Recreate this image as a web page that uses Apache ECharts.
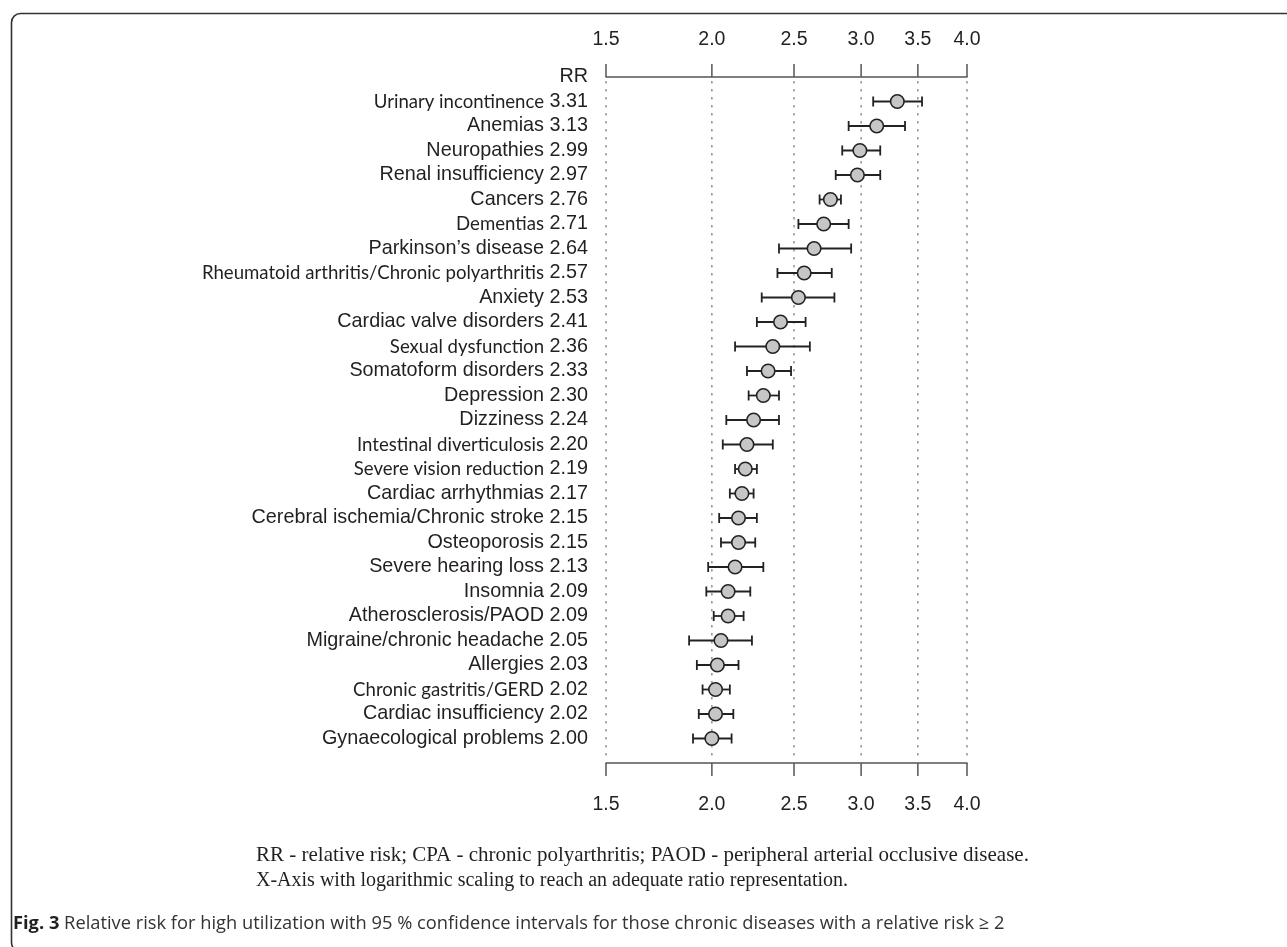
<!DOCTYPE html>
<html>
<head>
<meta charset="utf-8">
<script src="https://cdn.jsdelivr.net/npm/echarts@6/dist/echarts.min.js"></script>
<style>
html,body{margin:0;padding:0;background:#fff;}
#chart{width:1287px;height:947px;}
</style>
</head>
<body>
<div id="chart"></div>
<script>
const names = ['Urinary incontinence','Anemias','Neuropathies','Renal insufficiency','Cancers','Dementias','Parkinson\u2019s disease','Rheumatoid arthritis/Chronic polyarthritis','Anxiety','Cardiac valve disorders','Sexual dysfunction','Somatoform disorders','Depression','Dizziness','Intestinal diverticulosis','Severe vision reduction','Cardiac arrhythmias','Cerebral ischemia/Chronic stroke','Osteoporosis','Severe hearing loss','Insomnia','Atherosclerosis/PAOD','Migraine/chronic headache','Allergies','Chronic gastritis/GERD','Cardiac insufficiency','Gynaecological problems'];
const rr    = [3.31,3.13,2.99,2.97,2.76,2.71,2.64,2.57,2.53,2.41,2.36,2.33,2.30,2.24,2.20,2.19,2.17,2.15,2.15,2.13,2.09,2.09,2.05,2.03,2.02,2.02,2.00];
const lower = [3.10,2.90,2.85,2.80,2.68,2.53,2.40,2.39,2.29,2.26,2.13,2.20,2.21,2.08,2.06,2.13,2.10,2.04,2.05,1.98,1.97,2.01,1.88,1.92,1.95,1.93,1.90];
const upper = [3.54,3.38,3.16,3.16,2.84,2.90,2.92,2.77,2.79,2.58,2.61,2.48,2.40,2.40,2.36,2.26,2.24,2.26,2.25,2.30,2.22,2.18,2.23,2.15,2.10,2.12,2.11];
const altFont = [1,0,0,0,0,1,0,1,0,0,1,0,0,0,1,1,0,0,0,0,0,0,0,0,1,0,0];
const tickValues = [1.5,2.0,2.5,3.0,3.5,4.0];
const headerLabel = 'RR';
const notes = ['RR - relative risk; CPA - chronic polyarthritis; PAOD - peripheral arterial occlusive disease.','X-Axis with logarithmic scaling to reach an adequate ratio representation.'];
const captionBold = 'Fig. 3';
const captionText = ' Relative risk for high utilization with 95 % confidence intervals for those chronic diseases with a relative risk \u2265 2';

const cats = [headerLabel].concat(names).concat(['__end']);

const chart = echarts.init(document.getElementById('chart'));
const AR = 'Liberation Sans, Arial, Helvetica, sans-serif';
const TXT = '#231f20';

const xAxisBase = {
  type: 'log', logBase: 10, min: 1.5, max: 4.0,
  axisLine: {show: true, lineStyle: {color: '#555', width: 1.5}},
  axisTick: {show: false}, axisLabel: {show: false}, splitLine: {show: false}, minorTick:{show:false}, minorSplitLine:{show:false}
};

const option = {
  animation: false,
  backgroundColor: '#fff',
  grid: {left: 606, right: 320, top: 77, bottom: 184, containLabel: false},
  xAxis: [
    Object.assign({position: 'top'}, xAxisBase),
    Object.assign({position: 'bottom'}, xAxisBase)
  ],
  yAxis: {
    type: 'category', inverse: true, boundaryGap: false, data: cats,
    axisLine: {show: false}, axisTick: {show: false}, splitLine: {show: false},
    axisLabel: {
      margin: 18, interval: 0,
      formatter: function (v, i) {
        if (i === 0) return '{a|' + headerLabel + '}';
        const k = i - 1;
        if (k >= names.length) return '';
        const nm = altFont[k] ? '{c|' + names[k] + '}' : '{a|' + names[k] + '}';
        return nm + '{a| ' + rr[k].toFixed(2) + '}';
      },
      rich: {
        a: {fontFamily: AR, fontSize: 19.8, color: TXT},
        c: {fontFamily: 'Lato, Open Sans, sans-serif', fontSize: 18.6, color: TXT}
      }
    }
  },
  series: [
    {
      type: 'custom', name: 'ticks', xAxisIndex: 0, clip: false, silent: true, z: 1,
      data: tickValues.map(v => [v, 0]),
      renderItem: function (params, api) {
        const x = api.coord([api.value(0), 0])[0];
        const cs = params.coordSys;
        const top = cs.y, bot = cs.y + cs.height;
        const lbl = api.value(0).toFixed(1);
        return {type: 'group', children: [
          {type: 'line', shape: {x1: x, y1: top - 13, x2: x, y2: top}, style: {stroke: '#555', lineWidth: 1.5}},
          {type: 'line', shape: {x1: x, y1: bot, x2: x, y2: bot + 13}, style: {stroke: '#555', lineWidth: 1.5}},
          {type: 'line', shape: {x1: x, y1: top + 4, x2: x, y2: bot - 4}, style: {stroke: '#777', lineWidth: 1.2, lineDash: [2.5, 5.5]}},
          {type: 'text', x: x, y: top - 37, style: {text: lbl, align: 'center', verticalAlign: 'middle', fontFamily: AR, fontSize: 19.5, fill: TXT}},
          {type: 'text', x: x, y: bot + 42, style: {text: lbl, align: 'center', verticalAlign: 'middle', fontFamily: AR, fontSize: 19.5, fill: TXT}}
        ]};
      }
    },
    {
      type: 'custom', name: 'CI', xAxisIndex: 0, clip: false, silent: true, z: 2,
      data: names.map((n, k) => [lower[k], upper[k], k + 1]),
      encode: {x: [0, 1], y: 2},
      renderItem: function (params, api) {
        const p1 = api.coord([api.value(0), api.value(2)]);
        const p2 = api.coord([api.value(1), api.value(2)]);
        const h = 5;
        const st = {stroke: '#222', lineWidth: 1.8};
        return {type: 'group', children: [
          {type: 'line', shape: {x1: p1[0], y1: p1[1], x2: p2[0], y2: p2[1]}, style: st},
          {type: 'line', shape: {x1: p1[0], y1: p1[1] - h, x2: p1[0], y2: p1[1] + h}, style: st},
          {type: 'line', shape: {x1: p2[0], y1: p2[1] - h, x2: p2[0], y2: p2[1] + h}, style: st}
        ]};
      }
    },
    {
      type: 'scatter', name: 'RR', xAxisIndex: 0, z: 3, silent: true,
      symbol: 'circle', symbolSize: 13.5,
      itemStyle: {color: '#c6c6c6', borderColor: '#222', borderWidth: 1.6, opacity: 1},
      data: rr.map((v, k) => [v, k + 1])
    }
  ],
  graphic: [
    {type: 'rect', left: 9, top: 11, shape: {width: 1300, height: 938, r: 9}, style: {fill: 'none', stroke: '#333', lineWidth: 1.6}, silent: true, z: 0},
    {type: 'text', left: 256, top: 845, style: {text: notes[0], fontFamily: 'Liberation Serif, Times New Roman, serif', fontSize: 21, fill: TXT}},
    {type: 'text', left: 256, top: 871, style: {text: notes[1], fontFamily: 'Liberation Serif, Times New Roman, serif', fontSize: 20, fill: TXT}},
    {type: 'text', left: 13, top: 915, style: {text: '{b|' + captionBold + '}{r|' + captionText + '}', rich: {
      b: {fontFamily: 'Open Sans, sans-serif', fontWeight: 'bold', fontSize: 18.3, fill: TXT, color: TXT},
      r: {fontFamily: 'Open Sans, sans-serif', fontSize: 18.3, fill: '#333', color: '#333'}
    }}}
  ]
};
chart.setOption(option);
</script>
</body>
</html>
